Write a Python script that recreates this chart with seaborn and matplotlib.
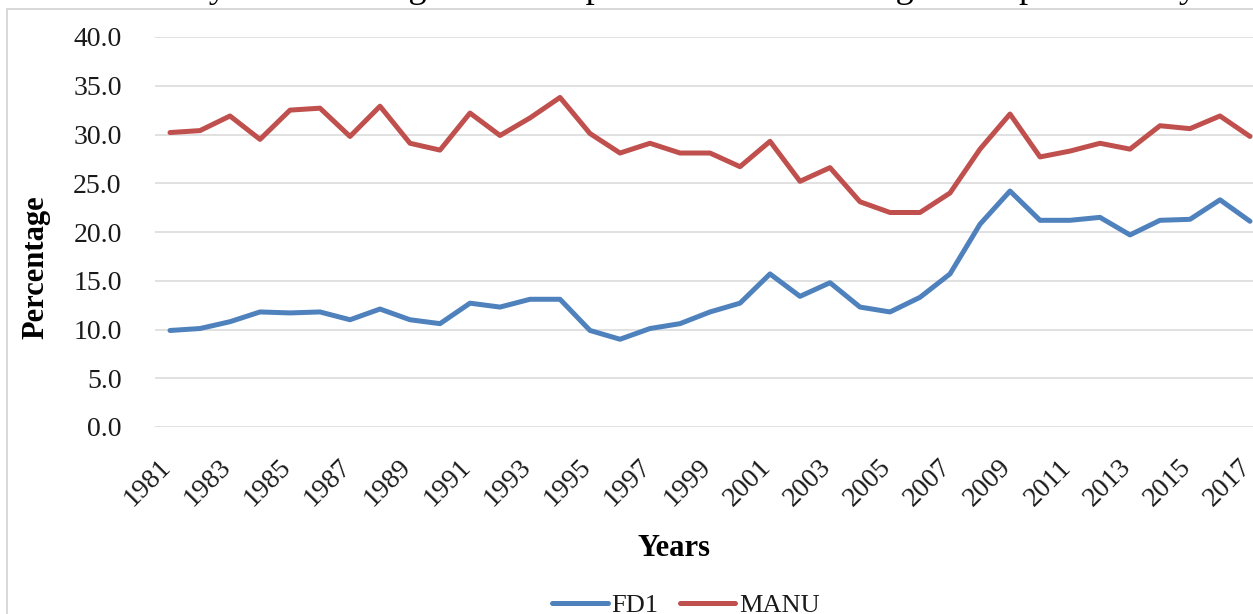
import matplotlib
matplotlib.use("Agg")
import matplotlib.pyplot as plt
import matplotlib.transforms as mtransforms
from matplotlib.patches import Rectangle
import pandas as pd
import seaborn as sns

# Annual series, 1981-2017 (percent)
years = list(range(1981, 2018))
fd1 = [9.9, 10.1, 10.8, 11.8, 11.7, 11.8, 11.0, 12.1, 11.0, 10.6,
       12.7, 12.3, 13.1, 13.1, 9.9, 9.0, 10.1, 10.6, 11.8, 12.7,
       15.7, 13.4, 14.8, 12.3, 11.8, 13.3, 15.7, 20.8, 24.2, 21.2,
       21.2, 21.5, 19.7, 21.2, 21.3, 23.3, 21.1]
manu = [30.2, 30.4, 31.9, 29.5, 32.5, 32.7, 29.8, 32.9, 29.1, 28.4,
        32.2, 29.9, 31.7, 33.8, 30.1, 28.1, 29.1, 28.1, 28.1, 26.7,
        29.3, 25.2, 26.6, 23.1, 22.0, 22.0, 24.0, 28.5, 32.1, 27.7,
        28.3, 29.1, 28.5, 30.9, 30.6, 31.9, 29.8]
series_names = ["FD1", "MANU"]
y_ticks = [0, 5, 10, 15, 20, 25, 30, 35, 40]
x_tick_years = years[::2]

df = pd.DataFrame({
    "Year": years * 2,
    "Value": fd1 + manu,
    "Series": [series_names[0]] * len(years) + [series_names[1]] * len(years),
})

sns.set_theme(style="white")
plt.rcParams["font.family"] = ["Liberation Serif", "DejaVu Serif"]

W, H = 1253, 614
fig = plt.figure(figsize=(W / 100, H / 100), dpi=100)
fig.patch.set_facecolor("white")

# chart frame
fig.add_artist(Rectangle((7 / W, -0.1), 1.2, (1 - 8.5 / H) + 0.1,
                         transform=fig.transFigure, fill=False,
                         edgecolor="#D6D6D6", linewidth=1.3))

# running text line above the chart
fig.text(1204 / W, 1 + 3 / H,
         "the country had some significant impact on manufacturing sector productivity.",
         ha="right", va="baseline", fontsize=26.2, color="black")

ax = fig.add_axes([155 / W, 187 / H, 1110 / W, 390 / H])
palette = {"FD1": "#4F81BD", "MANU": "#C0504D"}
sns.lineplot(data=df, x="Year", y="Value", hue="Series", palette=palette,
             linewidth=3.6, ax=ax, legend=True)
for ln in ax.get_lines():
    ln.set_solid_capstyle("round")
    ln.set_solid_joinstyle("round")

handles, labels = ax.get_legend_handles_labels()
ax.get_legend().remove()

ax.set_xlim(1980.5, 2017.5)
ax.set_ylim(0, 40)
ax.set_yticks(y_ticks)
ax.set_yticklabels([f"{v:.1f}" for v in y_ticks])
ax.set_xticks(x_tick_years)
ax.set_xticklabels([str(y) for y in x_tick_years], rotation=45, ha="right")
ax.set_xlabel("")
ax.set_ylabel("")
ax.yaxis.grid(True, color="#D9D9D9", linewidth=1.1)
ax.xaxis.grid(False)
for s in ax.spines.values():
    s.set_visible(False)
ax.tick_params(axis="both", length=0, labelsize=20, colors="#1A1A1A")
ax.tick_params(axis="y", pad=24)
ax.tick_params(axis="x", pad=20)
shift = mtransforms.ScaledTranslation(6 / 100, 0, fig.dpi_scale_trans)
for lab in ax.get_xticklabels():
    lab.set_transform(lab.get_transform() + shift)

fig.text(36 / W, 1 - 267 / H, "Percentage", rotation=90, ha="center", va="center",
         fontsize=22, fontweight="bold", color="black")
fig.text(674 / W, 1 - 548 / H, "Years", ha="center", va="center",
         fontsize=22, fontweight="bold", color="black")

fig.legend(handles, labels, loc="center", bbox_to_anchor=(686 / W, 1 - 605 / H),
           ncol=2, frameon=False, fontsize=19, handlelength=2.1,
           handletextpad=0.15, columnspacing=0.8, labelcolor="#1A1A1A")

fig.savefig("out.png", dpi=100)
